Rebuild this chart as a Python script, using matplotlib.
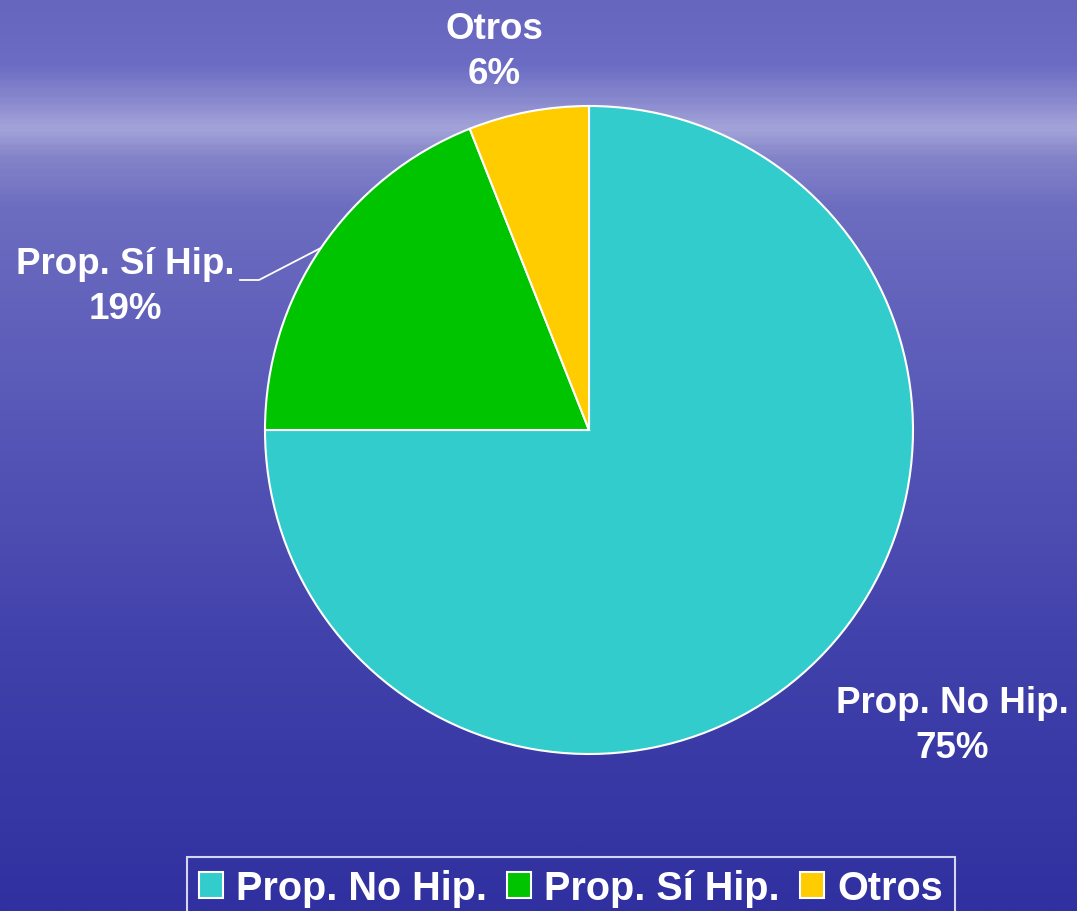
import numpy as np
import matplotlib
matplotlib.use("Agg")
import matplotlib.pyplot as plt
from matplotlib.colors import LinearSegmentedColormap

categories = ['Prop. No Hip.', 'Prop. Sí Hip.', 'Otros']
shares = [75, 19, 6]
colors = ['#33CCCC', '#00C400', '#FFCC00']

W, H = 1077, 912
CX, CY, R = 589, H - 431, 324

plt.rcParams['font.family'] = ['Liberation Sans', 'DejaVu Sans']

fig = plt.figure(figsize=(W / 100, H / 100), dpi=100)

# background: sky with a light horizon band, sea getting darker downwards
bg = fig.add_axes([0, 0, 1, 1])
bg.set_axis_off()
stops = [(0.0, '#6666be'), (0.07, '#6c6cc4'), (0.11, '#8a8acf'), (0.14, '#a4a4da'),
         (0.17, '#8484ca'), (0.23, '#6c6cc0'), (0.45, '#5858b8'), (0.7, '#4242ac'),
         (1.0, '#3030a0')]
cmap = LinearSegmentedColormap.from_list('bg', stops)
grad = np.linspace(0, 1, 400).reshape(-1, 1)
bg.imshow(grad, cmap=cmap, aspect='auto', extent=[0, 1, 0, 1], origin='upper')
bg.set_xlim(0, 1)
bg.set_ylim(0, 1)

ax = fig.add_axes([0, 0, 1, 1])
ax.patch.set_alpha(0)

wedges, _ = ax.pie(shares, colors=colors, startangle=90, counterclock=False,
                   center=(CX, CY), radius=R, frame=True,
                   wedgeprops=dict(edgecolor='white', linewidth=1.5))
ax.set_xlim(0, W)
ax.set_ylim(0, H)
ax.set_aspect('equal')
ax.set_axis_off()

label_pos = [(952, H - 726), (125, H - 287), (494, H - 52)]
for name, val, (lx, ly) in zip(categories, shares, label_pos):
    ax.text(lx, ly, f'{name}\n{val}%', color='white', fontsize=26.5,
            fontweight='bold', ha='center', va='center', linespacing=1.36)

# leader line for the green slice
w = wedges[1]
mid = np.deg2rad((w.theta1 + w.theta2) / 2)
ex, ey = CX + R * np.cos(mid), CY + R * np.sin(mid)
ax.plot([240, 259, ex], [H - 281, H - 281, ey], color='white', lw=1.3)

leg = fig.legend(wedges, categories, loc='center left',
                 bbox_to_anchor=(187 / W, 1 - 889 / H), ncol=3,
                 frameon=True, facecolor='none', edgecolor='white',
                 handlelength=0.6, handleheight=0.6, handletextpad=0.33,
                 columnspacing=0.52, borderpad=0.3, borderaxespad=0,
                 fancybox=False,
                 prop=dict(weight='bold', size=28.5))
leg.get_frame().set_linewidth(1.5)
for t in leg.get_texts():
    t.set_color('white')

fig.savefig('out.png', dpi=100)
